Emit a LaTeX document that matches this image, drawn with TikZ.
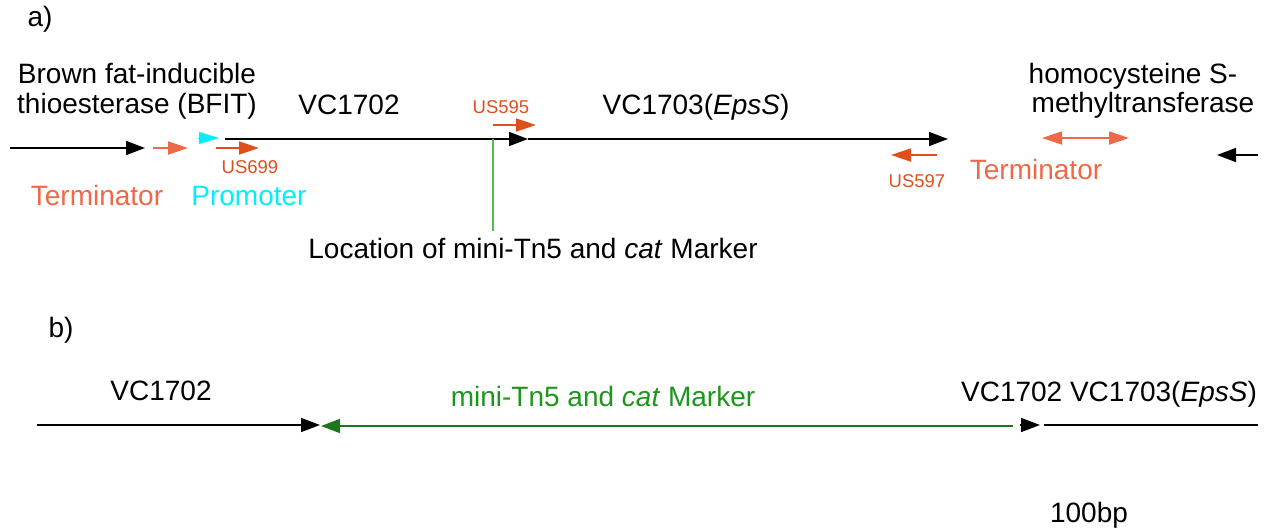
\documentclass[tikz,border=0pt]{standalone}
\usepackage{fontspec}
\setmainfont{Liberation Sans}
\usetikzlibrary{arrows.meta}
\definecolor{coral}{RGB}{240,104,72}
\definecolor{primer}{RGB}{224,78,28}
\definecolor{cyanp}{RGB}{0,240,250}
\definecolor{gtext}{RGB}{30,150,30}
\definecolor{garrow}{RGB}{26,120,26}
\definecolor{gline}{RGB}{80,190,80}
\tikzset{
  big/.style={inner sep=0pt,anchor=base,font=\fontsize{28}{32}\selectfont},
  small/.style={inner sep=0pt,anchor=base,font=\fontsize{18.5}{21}\selectfont,text=primer},
  gene/.style={line width=1.5pt,-{Triangle[length=19pt,width=14pt]}},
  prim/.style={line width=1.8pt,primer,-{Triangle[length=20pt,width=13pt]}},
  term/.style={line width=1.8pt,coral,-{Triangle[length=20pt,width=13pt]}},
}
\begin{document}
\begin{tikzpicture}[x=1pt,y=-1pt]
\useasboundingbox (0,0) rectangle (1270,531);
% ---- a) ----
\node[big] (la) at (40,26) {a)};
\node[big] (bfit1) at (137,83) {Brown fat-inducible};
\node[big] (bfit2) at (137,113) {thioesterase (BFIT)};
\node[big] (vc1702) at (349,114) {VC1702};
\node[small] (us595) at (501,113) {US595};
\node[big] (vc1703) at (696,114) {VC1703(\textit{EpsS})};
\node[big] (hom1) at (1133,83) {homocysteine S-};
\node[big] (hom2) at (1143,112) {methyltransferase};
\node[big,text=coral] (term1) at (97,205) {Terminator};
\node[big,text=cyanp] (prom) at (249,205) {Promoter};
\node[small] (us699) at (250,173) {US699};
\node[big] (loc) at (533,258) {Location of mini-Tn5 and \textit{cat} Marker};
\node[small] (us597) at (917,187) {US597};
\node[big,text=coral] (term2) at (1036,179) {Terminator};

\coordinate (g0s) at (10,148);
\coordinate (g0e) at (145,148);
\draw[gene] (g0s) -- (g0e);
\coordinate (t1s) at (153,148);
\coordinate (t1e) at (188,148);
\draw[term] (t1s) -- (t1e);
\coordinate (ps) at (198,138);
\coordinate (pe) at (219,138);
\draw[cyanp,-{Triangle[length=20pt,width=12pt]}] (ps) -- (pe);
\coordinate (p699s) at (216,148);
\coordinate (p699e) at (259,148);
\draw[prim] (p699s) -- (p699e);
\coordinate (g1s) at (225,139);
\coordinate (g1e) at (528,139);
\draw[gene] (g1s) -- (g1e);
\coordinate (g2e) at (948,139);
\draw[gene] (g1e) -- (g2e);
\coordinate (p595s) at (493,125);
\coordinate (p595e) at (536,125);
\draw[prim] (p595s) -- (p595e);
\coordinate (ins) at (493,139);
\coordinate (inse) at (493,231);
\draw[gline,line width=1.4pt] (ins) -- (inse);
\coordinate (p597s) at (937,155);
\coordinate (p597e) at (891,155);
\draw[prim] (p597s) -- (p597e);
\coordinate (t2s) at (1042,138);
\coordinate (t2e) at (1129,138);
\draw[line width=1.8pt,coral,{Triangle[length=20pt,width=13pt]}-{Triangle[length=20pt,width=13pt]}] (t2s) -- (t2e);
\coordinate (g3s) at (1258,155);
\coordinate (g3e) at (1217,155);
\draw[gene] (g3s) -- (g3e);
% ---- b) ----
\node[big] (lb) at (61,337) {b)};
\node[big] (bvc1702) at (161,400) {VC1702};
\node[big,text=gtext] (mini) at (603,406) {mini-Tn5 and \textit{cat} Marker};
\node[big] (right) at (1109,401) {VC1702 VC1703(\textit{EpsS})};
\node[big] (scale) at (1089,522) {100bp};
\coordinate (b1s) at (37,425);
\coordinate (b1e) at (320,425);
\draw[gene] (b1s) -- (b1e);
\coordinate (b2s) at (1013,426);
\coordinate (b2e) at (321,426);
\draw[garrow,line width=1.5pt,-{Triangle[length=19pt,width=14pt]}] (b2s) -- (b2e);
\coordinate (b3s) at (1020,425);
\coordinate (b3e) at (1040,425);
\draw[gene] (b3s) -- (b3e);
\coordinate (b4s) at (1044,425);
\coordinate (b4e) at (1258,425);
\draw[line width=1.5pt] (b4s) -- (b4e);
\end{tikzpicture}
\end{document}
